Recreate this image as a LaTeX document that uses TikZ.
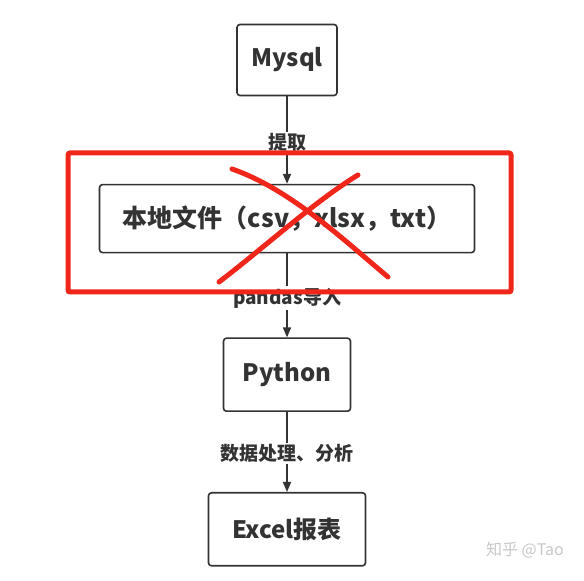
\documentclass[tikz,border=0pt]{standalone}
\usepackage{fontspec}
\usetikzlibrary{arrows.meta,positioning}
\newfontfamily\cjk{Noto Sans CJK SC}
\definecolor{ink}{HTML}{333333}
\definecolor{redmark}{HTML}{F0261A}
\definecolor{mark}{HTML}{C8C8C8}
\tikzset{
  flow/.style={-{Triangle[length=10pt,width=8pt]},line width=1.6pt,draw=ink},
  box/.style={draw=ink,line width=1.6pt,rounded corners=3pt,fill=white,
              align=center,font=\cjk\bfseries\fontsize{24}{28}\selectfont,text=ink},
  label/.style={font=\cjk\bfseries\fontsize{19}{22}\selectfont,text=ink,
                fill=white,inner sep=1.5pt},
  cross/.style={draw=redmark,line width=5pt,line cap=round},
}
\begin{document}
\begin{tikzpicture}[x=1pt,y=1pt]
    \useasboundingbox[fill=white] (0,0) rectangle (584,581);
    \node[box,minimum width=100pt,minimum height=71pt] (mysql) at (287,521) {Mysql};
    \node[box,minimum width=375pt,minimum height=68pt,below=87.5pt of mysql,
          font=\cjk\bfseries\fontsize{25}{29}\selectfont] (local)
      {本地文件（csv，xlsx，txt）};
    \node[box,minimum width=127pt,minimum height=73pt,below=84pt of local] (python)
      {Python};
    \node[box,minimum width=157pt,minimum height=73pt,below=80pt of python] (excel)
      {Excel报表};
    \draw[flow] (mysql) -- node[label,pos=0.53]{提取} (local);
    \draw[flow] (local) -- node[label,pos=0.53]{pandas导入} (python);
    \draw[flow] (python) -- node[label,pos=0.52]{数据处理、分析} (excel);
    % red mark
    \draw[redmark,line width=5pt,rounded corners=2pt] (68,428) rectangle (511,289);
    \draw[cross] (232,412) .. controls (290,392) and (345,340) .. (388,304);
    \draw[cross] (358,406) .. controls (315,380) and (260,330) .. (219,299);
    \node[font=\cjk\fontsize{16}{18}\selectfont,text=mark] (tag) at (525,31) {知乎 @Tao};
  \end{tikzpicture}
\end{document}
